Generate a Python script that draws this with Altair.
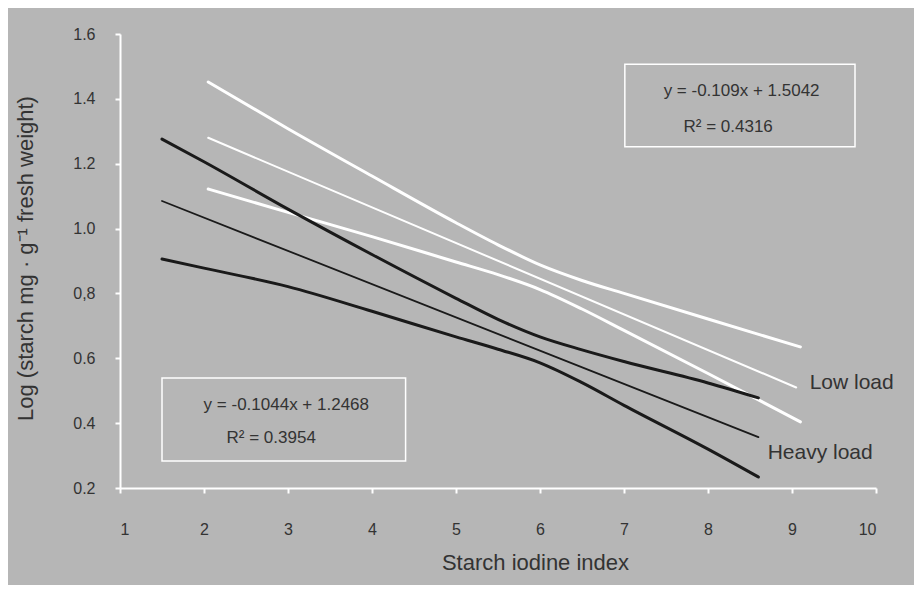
import altair as alt
import pandas as pd

# ---- data ----
low_upper_x = [2.05, 3, 4, 5, 5.5, 6, 6.5, 7, 8, 9.1]
low_upper_y = [1.452, 1.308, 1.162, 1.018, 0.950, 0.888, 0.840, 0.800, 0.721, 0.635]

low_reg_x = [2.05, 9.05]
low_reg_y = [1.28, 0.51]

low_lower_x = [2.05, 3, 4, 5, 5.5, 6, 6.5, 7, 8, 9.1]
low_lower_y = [1.122, 1.05, 0.975, 0.897, 0.858, 0.812, 0.752, 0.686, 0.553, 0.404]

heavy_upper_x = [1.5, 2, 3, 4, 5, 5.5, 6, 6.5, 7, 8, 8.6]
heavy_upper_y = [1.276, 1.206, 1.060, 0.920, 0.785, 0.720, 0.666, 0.626, 0.590, 0.524, 0.478]

heavy_reg_x = [1.5, 8.6]
heavy_reg_y = [1.085, 0.357]

heavy_lower_x = [1.5, 2, 3, 4, 5, 5.5, 6, 6.5, 7, 8, 8.6]
heavy_lower_y = [0.906, 0.878, 0.821, 0.745, 0.666, 0.628, 0.586, 0.525, 0.455, 0.320, 0.234]

x_ticks = [1, 2, 3, 4, 5, 6, 7, 8, 9, 10]
y_ticks = [0.2, 0.4, 0.6, 0.8, 1.0, 1.2, 1.4, 1.6]

eq_labels = ["y = -0.109x + 1.5042", "R² = 0.4316", "y = -0.1044x + 1.2468", "R² = 0.3954"]
series_labels = ["Low load", "Heavy load"]

# annotation anchors (data coordinates)
eq_x = [8.40, 8.24, 2.98, 2.80]
eq_y = [1.424, 1.313, 0.456, 0.354]
lab_x = [9.21, 8.71]
lab_y = [0.524, 0.308]
box_x = [7.01, 1.50]
box_x2 = [9.75, 4.40]
box_y = [1.507, 0.539]
box_y2 = [1.252, 0.283]


def frame(xs, ys, name):
    return pd.DataFrame({"x": xs, "y": ys, "series": name})


x_scale = alt.Scale(domain=[1, 10], nice=False, zero=False)
y_scale = alt.Scale(domain=[0.2, 1.6], nice=False, zero=False)

x_axis = alt.Axis(
    values=x_ticks, format="d", title="Starch iodine index",
    labelPadding=28, titleX=415, titleY=74, titleAlign="center",
    titleBaseline="middle", labelFontSize=16, titleFontSize=22,
)
y_axis = alt.Axis(
    values=y_ticks, title="Log (starch mg · g⁻¹ fresh weight)",
    labelExpr="abs(datum.value - 0.8) < 0.001 ? '0,8' : format(datum.value, '.1f')",
    labelPadding=20, titleX=-95, titleY=224, titleAngle=270,
    titleAlign="center", titleBaseline="middle", labelFontSize=16, titleFontSize=22,
)

X = alt.X("x:Q", scale=x_scale, axis=x_axis)
Y = alt.Y("y:Q", scale=y_scale, axis=y_axis)

thick_white = alt.Chart(pd.concat([
    frame(low_upper_x, low_upper_y, "low_upper"),
    frame(low_lower_x, low_lower_y, "low_lower"),
])).mark_line(color="white", strokeWidth=3, interpolate="monotone", strokeCap="round").encode(
    x=X, y=Y, detail="series:N")

thin_white = alt.Chart(frame(low_reg_x, low_reg_y, "low_reg")).mark_line(
    color="white", strokeWidth=2, strokeCap="round").encode(x=X, y=Y)

thick_black = alt.Chart(pd.concat([
    frame(heavy_upper_x, heavy_upper_y, "heavy_upper"),
    frame(heavy_lower_x, heavy_lower_y, "heavy_lower"),
])).mark_line(color="#1a1a1a", strokeWidth=3, interpolate="monotone", strokeCap="round").encode(
    x=X, y=Y, detail="series:N")

thin_black = alt.Chart(frame(heavy_reg_x, heavy_reg_y, "heavy_reg")).mark_line(
    color="#1a1a1a", strokeWidth=1.8, strokeCap="round").encode(x=X, y=Y)

boxes = alt.Chart(pd.DataFrame({"x": box_x, "x2": box_x2, "y": box_y, "y2": box_y2})).mark_rect(
    fillOpacity=0, stroke="white", strokeWidth=1.5).encode(
    x=X, x2="x2:Q", y=Y, y2="y2:Q")

eqs = alt.Chart(pd.DataFrame({"x": eq_x, "y": eq_y, "label": eq_labels})).mark_text(
    align="center", baseline="middle", fontSize=17, color="#333333", font="Liberation Sans").encode(
    x=X, y=Y, text="label:N")

labs = alt.Chart(pd.DataFrame({"x": lab_x, "y": lab_y, "label": series_labels})).mark_text(
    align="left", baseline="middle", fontSize=21, color="#333333", font="Liberation Sans").encode(
    x=X, y=Y, text="label:N")

chart = alt.layer(boxes, thick_white, thin_white, thick_black, thin_black, eqs, labs).properties(
    width=756, height=454, background="#b6b6b6",
    padding={"left": 112, "top": 26, "right": 38, "bottom": 97},
    autosize=alt.AutoSizeParams(type="none"),
).configure_view(stroke=None).configure_axis(
    domainColor="white", domainWidth=2, tickColor="white", tickWidth=2, tickSize=5,
    grid=False, labelColor="#333333", titleColor="#333333",
    labelFont="Liberation Sans", titleFont="Liberation Sans", titleFontWeight="normal",
)

chart.save("out.html", embed_options={"renderer": "svg", "actions": False})
